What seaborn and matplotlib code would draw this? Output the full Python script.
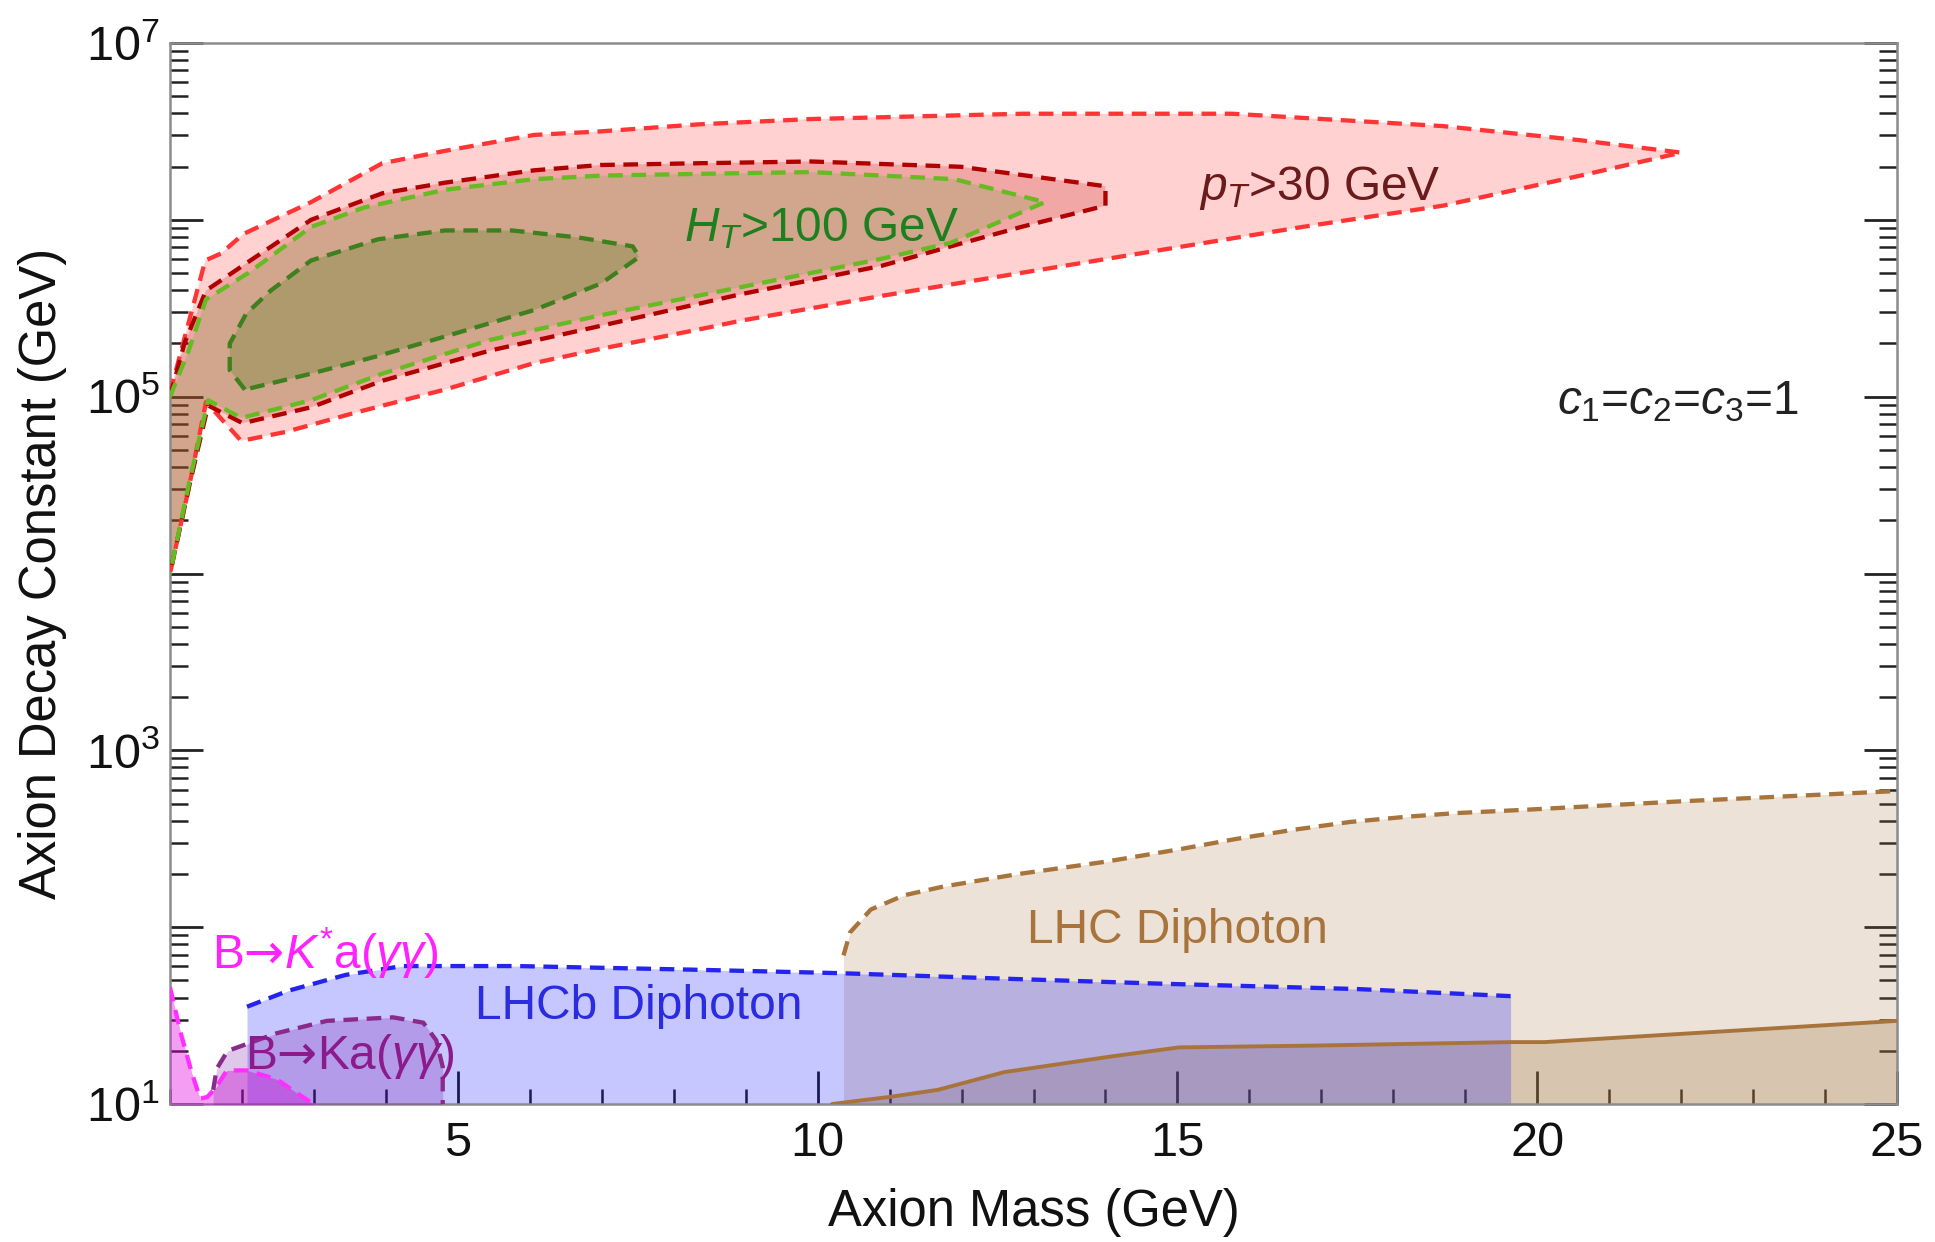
import numpy as np
import pandas as pd
import matplotlib
matplotlib.use("Agg")
import matplotlib.pyplot as plt
import seaborn as sns
from matplotlib.ticker import LogLocator, MultipleLocator, FuncFormatter, NullFormatter

# ---------------- data (axion mass in GeV, log10 of decay constant in GeV) ----------------
# pT > 30 GeV (outer, light red)
pt30_up_m = [1.0, 1.22, 1.49, 1.71, 2.02, 2.96, 3.95, 4.82, 6.06, 6.98, 8.35, 9.91, 12.84, 15.76, 18.69, 20.6, 22.0]
pt30_up_lf = [5.02, 5.36, 5.77, 5.81, 5.92, 6.10, 6.32, 6.39, 6.48, 6.50, 6.54, 6.57, 6.60, 6.60, 6.53, 6.45, 6.38]
pt30_lo_m = [22.0, 20.6, 18.69, 16.74, 14.78, 12.83, 10.89, 8.94, 8.35, 6.98, 6.06, 4.82, 3.58, 2.6, 1.99, 1.50, 1.27, 1.0]
pt30_lo_lf = [6.38, 6.25, 6.08, 5.96, 5.83, 5.70, 5.57, 5.43, 5.38, 5.27, 5.19, 5.04, 4.91, 4.80, 4.75, 4.97, 4.50, 4.0]

# dark red contour
dr_up_m = [1.0, 1.2, 1.5, 2.08, 2.96, 3.95, 4.82, 6.06, 6.98, 8.35, 9.91, 11.99, 14.0]
dr_up_lf = [5.0, 5.3, 5.60, 5.76, 6.0, 6.15, 6.21, 6.28, 6.31, 6.32, 6.33, 6.30, 6.19]
dr_lo_m = [14.0, 14.0, 12.83, 11.85, 10.89, 8.94, 6.98, 5.44, 3.95, 2.96, 2.01, 1.53, 1.27, 1.0]
dr_lo_lf = [6.19, 6.08, 5.96, 5.85, 5.74, 5.58, 5.40, 5.26, 5.09, 4.94, 4.85, 4.95, 4.50, 4.0]

# HT > 100 GeV (light green)
ht_up_m = [1.0, 1.25, 1.5, 2.09, 2.96, 3.70, 4.82, 6.06, 6.98, 8.35, 9.91, 11.9, 13.16]
ht_up_lf = [5.0, 5.25, 5.55, 5.70, 5.96, 6.07, 6.17, 6.23, 6.25, 6.26, 6.27, 6.23, 6.10]
ht_lo_m = [13.16, 11.85, 10.89, 8.94, 6.98, 5.44, 3.95, 2.96, 1.99, 1.53, 1.27, 1.0]
ht_lo_lf = [6.10, 5.87, 5.78, 5.62, 5.46, 5.32, 5.13, 4.98, 4.88, 4.98, 4.52, 4.0]

# inner dark green contour
dg_m = [2.04, 1.83, 1.83, 2.06, 2.40, 2.96, 3.89, 4.82, 5.75, 6.68, 7.43, 7.52, 6.99, 6.06, 4.82, 3.89, 2.96, 2.04]
dg_lf = [5.04, 5.15, 5.30, 5.47, 5.60, 5.77, 5.89, 5.94, 5.94, 5.90, 5.85, 5.79, 5.64, 5.49, 5.34, 5.23, 5.13, 5.04]

# LHC diphoton
lhc_dash_m = [10.36, 10.45, 10.74, 11.2, 11.75, 12.78, 14.0, 15.02, 15.83, 16.6, 17.4, 18.2, 18.87, 19.89, 21.92, 25.0]
lhc_dash_lf = [1.84, 1.97, 2.10, 2.18, 2.23, 2.30, 2.37, 2.44, 2.50, 2.55, 2.595, 2.625, 2.645, 2.665, 2.71, 2.77]
lhc_solid_m = [10.2, 11.0, 11.67, 12.59, 14.1, 15.02, 16.85, 19.63, 20.1, 25.0]
lhc_solid_lf = [1.0, 1.04, 1.08, 1.18, 1.27, 1.32, 1.33, 1.35, 1.35, 1.47]

# LHCb diphoton
lhcb_m = [2.07, 2.64, 3.44, 4.23, 5.83, 8.22, 10.3, 12.5, 14.8, 17.5, 19.63]
lhcb_lf = [1.55, 1.64, 1.73, 1.78, 1.78, 1.76, 1.74, 1.71, 1.68, 1.65, 1.61]

# B -> K* a(gamma gamma)
bkst_m = [1.0, 1.04, 1.15, 1.30, 1.42, 1.52, 1.65, 1.79, 2.07, 2.48, 2.99]
bkst_lf = [1.66, 1.59, 1.40, 1.18, 1.03, 1.04, 1.10, 1.19, 1.19, 1.14, 1.0]

# B -> K a(gamma gamma)
bk_m = [1.6, 1.65, 1.80, 2.48, 3.18, 4.10, 4.52, 4.70, 4.79, 4.79]
bk_lf = [1.08, 1.20, 1.30, 1.40, 1.47, 1.49, 1.46, 1.36, 1.21, 1.0]

# ---------------- style ----------------
sns.set_theme(style="ticks")
plt.rcParams['font.family'] = ['Liberation Sans', 'DejaVu Sans']
plt.rcParams['mathtext.fontset'] = 'custom'
plt.rcParams['mathtext.rm'] = 'Liberation Sans'
plt.rcParams['mathtext.it'] = 'Liberation Sans:italic'
plt.rcParams['mathtext.bf'] = 'Liberation Sans:bold'
plt.rcParams['mathtext.sf'] = 'DejaVu Sans'

W, H = 1935, 1242
fig = plt.figure(figsize=(W / 100, H / 100), dpi=100)
L, R, T, B = 170, 1897, 43, 1104
ax = fig.add_axes([L / W, 1 - B / H, (R - L) / W, (B - T) / H])
ax.set_yscale('log')

LW = 3.1
DASH = (0, (3.4, 2.0))


def f(lf):
    return np.power(10.0, np.asarray(lf, dtype=float))


def line(m, lf, color, ls=DASH, lw=LW, z=6):
    df = pd.DataFrame({'m': m, 'f': f(lf)})
    sns.lineplot(data=df, x='m', y='f', sort=False, estimator=None,
                 color=color, linewidth=lw, ax=ax, zorder=z)
    ln = ax.get_lines()[-1]
    ln.set_linewidth(lw)
    ln.set_linestyle(ls)


# ---------------- bottom regions ----------------
ax.fill_between(lhc_dash_m, 1, f(lhc_dash_lf), color='#A0703A', alpha=0.2, lw=0, zorder=1)
ax.fill_between(lhc_solid_m, 1, f(lhc_solid_lf), color='#A0703A', alpha=0.25, lw=0, zorder=1)
ax.fill_between(lhcb_m, 1, f(lhcb_lf), color='#0000FF', alpha=0.22, lw=0, zorder=2)
ax.fill_between(bkst_m, 1, f(bkst_lf), color='#E000E0', alpha=0.38, lw=0, zorder=3)
ax.fill_between(bk_m, 1, f(bk_lf), color='#7000A0', alpha=0.22, lw=0, zorder=3)

line(lhc_dash_m, lhc_dash_lf, '#A8743C')
line(lhc_solid_m, lhc_solid_lf, '#A8743C', ls='-', lw=2.8)
line(lhcb_m, lhcb_lf, '#2424EE')
line(bkst_m, bkst_lf, '#FF30FF')
line(bk_m, bk_lf, '#8A2A8A')

# ---------------- top regions ----------------
def poly(up_m, up_lf, lo_m, lo_lf):
    return list(up_m) + list(lo_m), list(up_lf) + list(lo_lf)

pm, pl = poly(pt30_up_m, pt30_up_lf, pt30_lo_m, pt30_lo_lf)
ax.fill(pm, f(pl), color='#FF0000', alpha=0.18, lw=0, zorder=2)
dm, dl = poly(dr_up_m, dr_up_lf, dr_lo_m, dr_lo_lf)
ax.fill(dm, f(dl), color='#C00000', alpha=0.2, lw=0, zorder=2)
hm, hl = poly(ht_up_m, ht_up_lf, ht_lo_m, ht_lo_lf)
ax.fill(hm, f(hl), color='#73A640', alpha=0.25, lw=0, zorder=2)
ax.fill(dg_m, f(dg_lf), color='#4A7A10', alpha=0.25, lw=0, zorder=2)

line(pm, pl, '#FF3535')
line(dm, dl, '#B00000')
line(hm, hl, '#66BB22')
line(dg_m, dg_lf, '#3E7F1E')

# ---------------- labels ----------------
TS = 34.5
ax.text(10.05, 10**5.95, r'$H_T$>100 GeV', color='#1F7F1F', fontsize=TS, ha='center', va='center', zorder=8)
ax.text(16.98, 10**6.18, r'$p_T$>30 GeV', color='#6A1B1B', fontsize=TS, ha='center', va='center', zorder=8)
ax.text(21.95, 10**4.97, r'$c_1$=$c_2$=$c_3$=1', color='#222222', fontsize=TS, ha='center', va='center', zorder=8)
ax.text(15.0, 10**1.98, 'LHC Diphoton', color='#A8743C', fontsize=TS, ha='center', va='center', zorder=8)
ax.text(7.52, 10**1.55, 'LHCb Diphoton', color='#2B2BE0', fontsize=TS, ha='center', va='center', zorder=8)
ax.text(1.58, 10**1.85, 'B$\\mathsf{\u2192}$$K^{*}$a($\\gamma\\gamma$)', color='#FF22FF', fontsize=TS,
        ha='left', va='center', zorder=8)
ax.text(2.04, 10**1.27, 'B$\\mathsf{\u2192}$Ka($\\gamma\\gamma$)', color='#8B1A8B', fontsize=TS,
        ha='left', va='center', zorder=8)

# ---------------- axes ----------------
ax.set_xlim(1, 25)
ax.set_ylim(10, 1e7)
ax.xaxis.set_major_locator(MultipleLocator(5))
ax.xaxis.set_minor_locator(MultipleLocator(1))
ax.yaxis.set_major_locator(LogLocator(base=10, numticks=20))
ax.yaxis.set_minor_locator(LogLocator(base=10, subs=np.arange(2, 10), numticks=50))
ax.yaxis.set_minor_formatter(NullFormatter())


def yfmt(v, pos):
    e = int(round(np.log10(v)))
    return r'$\mathdefault{10^{%d}}$' % e if e % 2 == 1 else ''


ax.yaxis.set_major_formatter(FuncFormatter(yfmt))
ax.tick_params(which='both', direction='in', top=False, right=True, color='#222222')
ax.tick_params(which='major', length=24, width=2.0, labelsize=35, labelcolor='#111111')
ax.tick_params(axis='x', which='minor', length=11, width=1.8)
ax.tick_params(axis='y', which='minor', length=13, width=1.8)
ax.tick_params(axis='x', which='major', pad=12)
ax.tick_params(axis='y', which='major', pad=7)
for s in ax.spines.values():
    s.set_color('#8C8C8C')
    s.set_linewidth(1.8)

ax.set_xlabel('Axion Mass (GeV)', fontsize=36.5, color='#111111', labelpad=16)
ax.set_ylabel('Axion Decay Constant (GeV)', fontsize=36.5, color='#111111', labelpad=14)

fig.savefig('out.png', dpi=100)
